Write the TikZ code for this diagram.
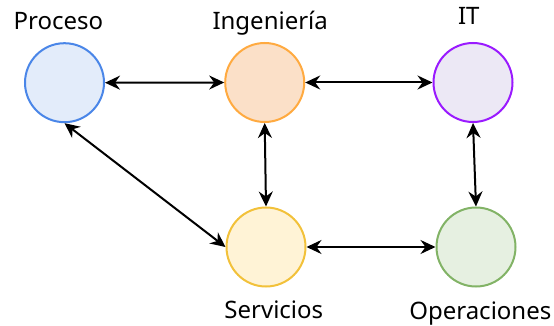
\documentclass[tikz,border=0pt]{standalone}
\usepackage{fontspec}
\setmainfont{Noto Sans}
\usetikzlibrary{arrows.meta}
\definecolor{pfill}{HTML}{E3ECFA}\definecolor{pdraw}{HTML}{4A86E8}
\definecolor{ifill}{HTML}{FBE0C8}\definecolor{idraw}{HTML}{FFAA40}
\definecolor{tfill}{HTML}{ECE8F5}\definecolor{tdraw}{HTML}{9A1AFF}
\definecolor{sfill}{HTML}{FFF3D6}\definecolor{sdraw}{HTML}{F2C13A}
\definecolor{ofill}{HTML}{E6F0E1}\definecolor{odraw}{HTML}{82B366}
\tikzset{
  bubble/.style={circle,minimum size=79pt,inner sep=0pt,line width=2pt},
  lbl/.style={anchor=base,inner sep=0pt,font=\fontsize{24}{28}\selectfont},
  link/.style={line width=2pt,{Stealth[length=15pt,width=14pt,inset=5pt]}-{Stealth[length=15pt,width=14pt,inset=5pt]}}
}
\begin{document}
\begin{tikzpicture}[x=1pt,y=-1pt]
\useasboundingbox (0,0) rectangle (554,326);
\node[bubble,fill=pfill,draw=pdraw] (p) at (64.5,82.7) {};
\node[bubble,fill=ifill,draw=idraw] (i) at (264.7,82.5) {};
\node[bubble,fill=tfill,draw=tdraw] (t) at (473,82.5) {};
\node[bubble,fill=sfill,draw=sdraw] (s) at (266,247) {};
\node[bubble,fill=ofill,draw=odraw] (o) at (476,247) {};
\node[lbl] (pl) at (58.4,29.3) {Proceso};
\node[lbl] (il) at (270.2,30) {Ingeniería};
\node[lbl] (tl) at (468.8,25) {IT};
\node[lbl] (sl) at (273.8,318.3) {Servicios};
\node[lbl] (ol) at (480.3,319.5) {Operaciones};
\draw[link] (p.east) -- (i.west);
\draw[link] (i.east) -- (t.west);
\draw[link] (s.east) -- (o.west);
\draw[link] (i.south) -- (s.north);
\draw[link] (t.south) -- (o.north);
\draw[link] (p.south) -- (s.west);
\end{tikzpicture}
\end{document}
